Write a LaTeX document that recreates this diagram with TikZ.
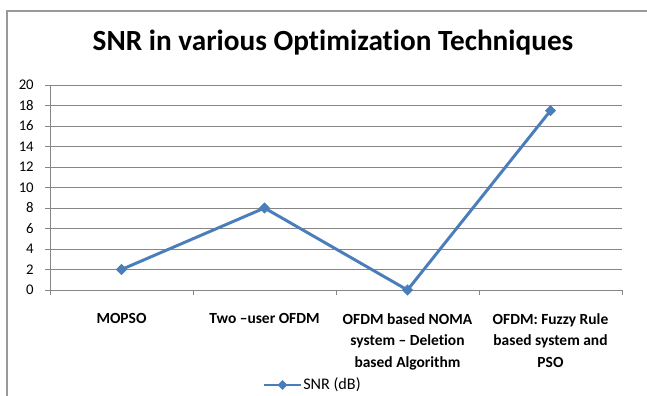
\documentclass[tikz,border=0pt]{standalone}
\usepackage{fontspec}
\setmainfont{Carlito}[Ligatures=NoCommon]
\usetikzlibrary{shapes.geometric, calc}

\definecolor{snrblue}{RGB}{74,126,187}
\definecolor{gridgray}{RGB}{134,134,134}

\tikzset{
  grid line/.style={gridgray, line width=0.7pt},
  tick label/.style={font=\fontsize{10.5}{12}\selectfont, anchor=east, inner sep=0pt},
  cat label/.style={font=\bfseries\fontsize{11}{15.5}\selectfont, align=center, anchor=north, inner sep=0pt},
  snr mark/.style={diamond, fill=snrblue, inner sep=0pt, minimum size=8pt},
  snr line/.style={snrblue, line width=2.1pt, line join=round},
}

\begin{document}
\begin{tikzpicture}[x=0.025cm, y=-0.025cm]
  \useasboundingbox (0,0) rectangle (647,396);

  % frame
  \draw[gray!80, line width=0.8pt] (7,396) -- (7,11) -- (647,11);

  % title
  \node[font=\bfseries\fontsize{20.8}{25}\selectfont, anchor=base] (title) at (333,50) {SNR in various Optimization Techniques};

  % grid and value axis
  \foreach \v in {0,2,...,20} {
    \draw[grid line] (45,{290-10.25*\v}) -- (622,{290-10.25*\v});
    \node[tick label] at (34,{290-10.25*\v}) {\v};
  }
  \draw[grid line] (50,85) -- (50,290);

  % category ticks
  \foreach \x in {50,193,336,479,622}
    \draw[grid line] (\x,290) -- (\x,295);

  % categories
  \node[cat label] (c1) at (121.5,313) {MOPSO};
  \node[cat label] (c2) at (264.5,313) {Two –user OFDM};
  \node[cat label] (c3) at (407.5,313) {OFDM based NOMA\\system – Deletion\\based Algorithm};
  \node[cat label] (c4) at (550.5,313) {OFDM: Fuzzy Rule\\based system and\\PSO};

  % data points
  \coordinate (p1) at (121.5,{290-10.25*2});
  \coordinate (p2) at (264.5,{290-10.25*8});
  \coordinate (p3) at (407.5,{290-10.25*0});
  \coordinate (p4) at (550.5,{290-10.25*17.5});

  % series
  \draw[snr line] (p1) -- (p2) -- (p3) -- (p4);
  \foreach \p in {p1,p2,p3,p4}
    \node[snr mark] at (\p) {};

  % legend
  \coordinate (l1) at (264,385);
  \coordinate (l2) at (301,385);
  \draw[snr line] (l1) -- (l2);
  \node[snr mark, minimum size=7pt] at ($(l1)!0.5!(l2)$) {};
  \node[anchor=west, inner sep=0pt, font=\fontsize{11.5}{13}\selectfont] (legend) at (303,385) {SNR (dB)};
\end{tikzpicture}
\end{document}
